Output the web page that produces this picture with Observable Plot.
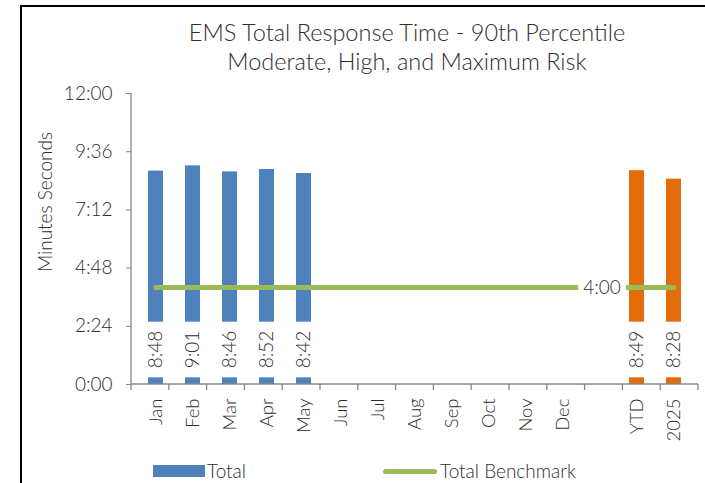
<!DOCTYPE html>
<html>
<head>
<meta charset="utf-8">
<script src="https://cdn.jsdelivr.net/npm/d3@7"></script>
<script src="https://cdn.jsdelivr.net/npm/@observablehq/plot@0.6"></script>
<style>
  html, body { margin: 0; padding: 0; background: white; }
  #wrap { position: relative; width: 705px; height: 483px; overflow: hidden; font-family: Lato, "Open Sans", sans-serif; font-weight: 300; color: #2e2e2e; }
  #frame { position: absolute; left: 20px; top: 5px; width: 800px; height: 600px; border-left: 2px solid #000; border-top: 2px solid #000; pointer-events: none; }
  #title { position: absolute; left: 0; width: 814px; top: 18px; text-align: center; font-size: 23.5px; line-height: 29px; color: #2e2e2e; font-weight: 300; }
  #plot { position: absolute; left: 0; top: 0; }
  .lg { position: absolute; font-size: 19px; line-height: 20px; color: #2e2e2e; }
  #ytitle { position: absolute; left: 44px; top: 202px; transform: translate(-50%, -50%) rotate(-90deg); font-size: 19px; white-space: nowrap; color: #2e2e2e; }
</style>
</head>
<body>
<div id="wrap">
  <div id="plot"></div>
  <div id="title">EMS Total Response Time - 90th Percentile<br>Moderate, High, and Maximum Risk</div>
  <div id="ytitle">Minutes Seconds</div>
  <div class="lg" style="left:153px; top:465px; width:52px; height:12px; background:#4F81BD;"></div>
  <div class="lg" style="left:207px; top:461px;">Total</div>
  <div class="lg" style="left:383px; top:469px; width:54px; height:5px; border-radius:3px; background:#9BBB59;"></div>
  <div class="lg" style="left:440px; top:461px;">Total Benchmark</div>
  <div id="frame"></div>
</div>
<script>
// ---- data ----
const categories = ["Jan","Feb","Mar","Apr","May","Jun","Jul","Aug","Sep","Oct","Nov","Dec"," ","YTD","2025"];
const monthCats = ["Jan","Feb","Mar","Apr","May"];
const monthTimes = ["8:48","9:01","8:46","8:52","8:42"];
const summaryCats = ["YTD","2025"];
const summaryTimes = ["8:49","8:28"];
const benchmarkTime = "4:00";
const yTickLabels = ["0:00","2:24","4:48","7:12","9:36","12:00"];

const toSec = s => { const [m, ss] = s.split(":").map(Number); return m * 60 + ss; };
const fmt = v => `${Math.floor(v / 60)}:${String(Math.round(v % 60)).padStart(2, "0")}`;

const bars = [
  ...monthCats.map((c, i) => ({cat: c, sec: toSec(monthTimes[i]), label: monthTimes[i], kind: "month"})),
  ...summaryCats.map((c, i) => ({cat: c, sec: toSec(summaryTimes[i]), label: summaryTimes[i], kind: "summary"}))
];
const bench = categories.map(c => ({cat: c, sec: toSec(benchmarkTime)}));
const benchLabel = [{cat: " ", sec: toSec(benchmarkTime), label: benchmarkTime}];
const yTicks = yTickLabels.map(toSec);

const AXIS = "#868686";
const TEXT = "#2e2e2e";

function axesMark(index, scales, values, dims) {
  const x0 = dims.marginLeft, x1 = dims.width - dims.marginRight;
  const yb = dims.height - dims.marginBottom, yt = dims.marginTop;
  const g = d3.create("svg:g").attr("stroke", AXIS).attr("stroke-width", 1.3).attr("fill", "none");
  g.append("line").attr("x1", x0).attr("x2", x0).attr("y1", yt).attr("y2", yb);
  g.append("line").attr("x1", x0).attr("x2", x1).attr("y1", yb).attr("y2", yb);
  const step = (x1 - x0) / categories.length;
  for (let i = 0; i <= categories.length; i++) {
    const xx = x0 + i * step;
    g.append("line").attr("x1", xx).attr("x2", xx).attr("y1", yb).attr("y2", yb + 6);
  }
  return g.node();
}

const chart = Plot.plot({
  width: 705,
  height: 483,
  marginLeft: 131,
  marginRight: 7,
  marginTop: 93,
  marginBottom: 99,
  style: {fontFamily: "Lato, 'Open Sans', sans-serif", fontSize: "18px", fontWeight: 300, color: TEXT, background: "transparent"},
  x: {type: "band", domain: categories, paddingInner: 0.59, paddingOuter: 0.295, label: null},
  y: {domain: [0, 720], label: null},
  marks: [
    Plot.barY(bars, {x: "cat", y: "sec", fill: d => d.kind === "month" ? "#4F81BD" : "#E46C0A"}),
    Plot.line(bench, {x: "cat", y: "sec", stroke: "#9BBB59", strokeWidth: 5, strokeLinecap: "round"}),
    Plot.text(benchLabel, {x: "cat", y: "sec", text: "label", fill: TEXT, fontSize: 19, dx: 2}),
    Plot.text(bars, {x: "cat", y: 0, text: "label", rotate: -90, dy: -35, fill: TEXT, fontSize: 19}),
    axesMark,
    Plot.axisY({ticks: yTicks, tickFormat: fmt, tickSize: 5, tickPadding: 14, stroke: AXIS, fill: TEXT, fontSize: 19, label: null}),
    Plot.axisX({tickSize: 0, tickRotate: -90, tickPadding: 14, fill: TEXT, fontSize: 18.5, label: null})
  ]
});
document.getElementById("plot").appendChild(chart);

// white label boxes behind data labels (sized from the rendered text)
function boxes(texts, padAlong, padAcross) {
  texts.forEach(t => {
    const b = t.getBBox();
    const r = document.createElementNS("http://www.w3.org/2000/svg", "rect");
    r.setAttribute("x", b.x - padAlong);
    r.setAttribute("y", b.y - padAcross);
    r.setAttribute("width", b.width + 2 * padAlong);
    r.setAttribute("height", b.height + 2 * padAcross);
    r.setAttribute("fill", "white");
    const tr = t.getAttribute("transform");
    if (tr) r.setAttribute("transform", tr);
    t.parentNode.insertBefore(r, t);
  });
}
const textGroups = chart.querySelectorAll("g[aria-label='text']");
const benchTexts = [...textGroups[0].querySelectorAll("text")];
const barTexts = [...textGroups[1].querySelectorAll("text")];
boxes(benchTexts, 5, 2);
boxes(barTexts, 9, 4);
</script>
</body>
</html>
